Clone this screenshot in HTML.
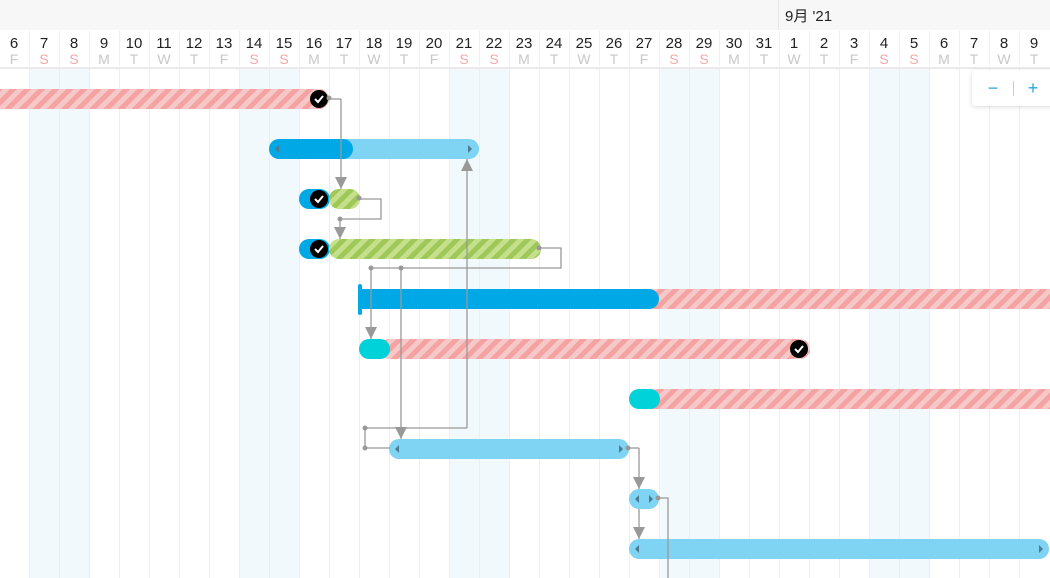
<!DOCTYPE html><html><head><meta charset="utf-8"><style>
html,body{margin:0;padding:0;background:#fff;}
svg{display:block;font-family:"Liberation Sans","Noto Sans CJK JP",sans-serif;}
</style></head><body>
<svg id="s" width="1050" height="578" xmlns="http://www.w3.org/2000/svg">
<defs>
<pattern id="red" width="10" height="10" patternUnits="userSpaceOnUse" patternTransform="rotate(45)">
<rect width="10" height="10" fill="#f7c8c8"/><rect width="5" height="10" fill="#f4a2a2"/></pattern>
<pattern id="grn" width="10" height="10" patternUnits="userSpaceOnUse" patternTransform="rotate(45)">
<rect width="10" height="10" fill="#c4e08a"/><rect width="5" height="10" fill="#9fc85a"/></pattern>
<marker id="ar" viewBox="0 0 12 12" refX="12" refY="6" markerWidth="12" markerHeight="12" orient="auto" markerUnits="userSpaceOnUse"><path d="M0,0 L12,6 L0,12 z" fill="#999"/></marker>
<filter id="sh" x="-20%" y="-30%" width="140%" height="160%"><feDropShadow dx="0" dy="1" stdDeviation="2" flood-opacity="0.15"/></filter>
</defs>
<g id="grid"></g>
<g id="bars"></g>
</svg>
<script>
var s=document.getElementById('grid'),h='';
h+='<rect x="0" y="0" width="1050" height="30" fill="#f7f7f7"/>';
h+='<line x1="778.5" y1="0" x2="778.5" y2="30" stroke="#e6e6e6"/>';
h+='<text x="785" y="21" font-size="15" fill="#222">9月 \'21</text>';
var days=[],wd="FSSMTWT";
for(var i=0;i<35;i++){var d=i<26?6+i:i-25;days.push(d);}
var weekend=[1,2,8,9,15,16,22,23,29,30];
for(var i=0;i<35;i++){var x=30*i-1;
 if(weekend.indexOf(i)>=0)h+='<rect x="'+x+'" y="69" width="30" height="509" fill="#f1f9fc"/>';
 h+='<line x1="'+(x+0.5)+'" y1="69" x2="'+(x+0.5)+'" y2="578" stroke="#eeeeee"/>';
 h+='<line x1="'+(x+0.5)+'" y1="31" x2="'+(x+0.5)+'" y2="66" stroke="#f0f0f0"/>';
 var c=x+15,l=wd[i%7],we=weekend.indexOf(i)>=0;
 h+='<text x="'+c+'" y="48" font-size="15" fill="#222" text-anchor="middle">'+days[i]+'</text>';
 h+='<text x="'+c+'" y="64" font-size="14" fill="'+(we?'#f4a8a8':'#c8c8c8')+'" text-anchor="middle">'+l+'</text>';
}
h+='<line x1="0" y1="68" x2="1050" y2="68" stroke="#e4e4e4" stroke-width="1.5"/>';
s.innerHTML=h;
var b='';
function pill(x1,x2,y,fill){return '<rect x="'+x1+'" y="'+y+'" width="'+(x2-x1)+'" height="20" rx="10" fill="'+fill+'"/>';}
function chk(cx,cy){return '<circle cx="'+cx+'" cy="'+cy+'" r="9" fill="#000"/><path d="M'+(cx-4)+','+cy+' l3,3 l5,-6" stroke="#fff" stroke-width="2" fill="none"/>';}
function tl(x,y){return '<path d="M'+(x+2)+','+(y-4)+' l-4,4 l4,4z" fill="#4a7d95"/>';}
function tr(x,y){return '<path d="M'+(x-2)+','+(y-4)+' l4,4 l-4,4z" fill="#4a7d95"/>';}
function ln(p){return '<polyline points="'+p+'" fill="none" stroke="#999" stroke-width="1.3"/>';}
function lna(p){return '<polyline points="'+p+'" fill="none" stroke="#999" stroke-width="1.3" marker-end="url(#ar)"/>';}
function dot(x,y){return '<circle cx="'+x+'" cy="'+y+'" r="2.5" fill="#999"/>';}
b+='<rect x="-20" y="89" width="349" height="20" rx="10" fill="url(#red)"/>'+chk(319,99);
b+=pill(269,479,139,'#7fd3f3')+pill(269,353,139,'#00a8e6')+tl(277,149)+tr(470,149);
b+=pill(299,330,189,'#00a8e6')+pill(329,360,189,'url(#grn)')+chk(319,199);
b+=pill(299,330,239,'#00a8e6')+pill(329,541,239,'url(#grn)')+chk(319,249);
b+='<rect x="650" y="289" width="420" height="20" fill="url(#red)"/><rect x="359" y="289" width="300" height="20" rx="10" fill="#00a8e6"/><rect x="359" y="289" width="20" height="20" fill="#00a8e6"/><rect x="358" y="284" width="4" height="31" rx="2" fill="#00a8e6"/>';
b+=pill(379,810,339,'url(#red)')+pill(359,390,339,'#00d2da')+chk(799,349);
b+='<rect x="650" y="389" width="420" height="20" fill="url(#red)"/>'+pill(629,660,389,'#00d2da');
b+=pill(389,629,439,'#7fd3f3')+tl(397,449)+tr(621,449);
b+=pill(629,659,489,'#7fd3f3')+tl(637,499)+tr(651,499);
b+=pill(629,1049,539,'#7fd3f3')+tl(637,549)+tr(1041,549);
b+=ln('329,99 341,99')+lna('341,99 341,189')+dot(329,98);
b+=ln('359,199 381,199 381,219 339,219')+lna('340,219 340,239')+dot(359,198)+dot(340,219);
b+=ln('539,248 561,248 561,268 370,268')+lna('371,268 371,339')+lna('401,268 401,439')+dot(539,248)+dot(371,268)+dot(401,268);
b+=ln('365,428 467,428')+lna('467,428 467,159')+ln('365,428 365,448 390,448')+dot(365,428)+dot(365,448);
b+=ln('628,448 639,448')+lna('639,448 639,489')+lna('639,509 639,539')+dot(628,448);
b+=ln('658,498 668,498 668,578')+dot(658,498);
b+='<rect x="972" y="70" width="90" height="36" rx="3" fill="#fff" filter="url(#sh)"/>';
b+='<text x="993" y="94" font-size="18" fill="#2aa6e0" text-anchor="middle">−</text><line x1="1013.5" y1="81" x2="1013.5" y2="96" stroke="#ccc"/><text x="1033" y="94" font-size="18" fill="#2aa6e0" text-anchor="middle">+</text>';
document.getElementById('bars').innerHTML=b;
</script>
</body></html>
